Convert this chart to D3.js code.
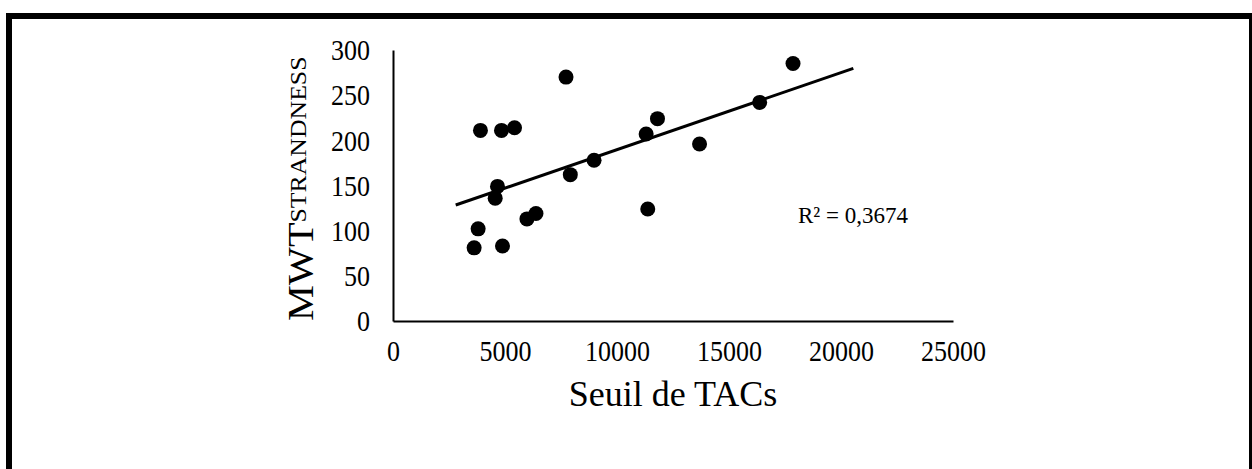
<!DOCTYPE html>
<html><head><meta charset="utf-8">
<script src="https://cdn.jsdelivr.net/npm/d3@7"></script>
<style>body{margin:0;background:#fff;} svg{display:block;}</style>
</head><body>
<script>
const xValues = [3622, 3801, 3904, 4562, 4665, 4843, 4888, 5425, 5979, 6382, 7724, 7916, 8976, 11301, 11373, 11807, 13685, 16369, 17858];
const yValues = [81, 102, 211, 136, 149, 211, 83, 214, 113, 119, 270, 162, 178, 207, 124, 224, 196, 242, 285];
const trendX = [2800, 20550];
const trendY = [128.4, 279.7];
const xTicks = [0, 5000, 10000, 15000, 20000, 25000];
const yTicks = [0, 50, 100, 150, 200, 250, 300];
const xTitle = "Seuil de TACs";
const yTitleMain = "MWT";
const yTitleSup = "STRANDNESS";
const r2Label = "R² = 0,3674";

const W = 1252, H = 469;
const svg = d3.select("body").append("svg").attr("width", W).attr("height", H);
const font = "'Liberation Serif','Times New Roman',serif";
const stretch = 1.1;

svg.append("rect").attr("x", 9).attr("y", 16).attr("width", 1243).attr("height", 500)
  .attr("fill", "none").attr("stroke", "#000").attr("stroke-width", 6);

const x = d3.scaleLinear().domain([0, 25000]).range([393, 953]);
const y = d3.scaleLinear().domain([0, 300]).range([321, 50]);

const xAxis = d3.axisBottom(x).tickValues(xTicks).tickSize(0).tickPadding(0).tickFormat(d3.format("d"));
const gx = svg.append("g").attr("transform", `translate(0,${y(0)})`).call(xAxis);
gx.select(".domain").attr("stroke", "#000").attr("stroke-width", 2);
gx.selectAll("text").attr("font-family", font).attr("font-size", 26).attr("fill", "#000")
  .attr("dy", null).attr("y", 40 / stretch).attr("transform", `scale(1,${stretch})`);

const yAxis = d3.axisLeft(y).tickValues(yTicks).tickSize(0).tickPadding(0).tickFormat(d3.format("d"));
const gy = svg.append("g").attr("transform", `translate(${x(0)},0)`).call(yAxis);
gy.select(".domain").attr("stroke", "#000").attr("stroke-width", 2);
gy.selectAll("text").attr("font-family", font).attr("font-size", 26).attr("fill", "#000")
  .attr("x", -23).attr("dy", "0.34em").attr("transform", `scale(1,${stretch})`);

svg.append("line")
  .attr("x1", x(trendX[0])).attr("y1", y(trendY[0]))
  .attr("x2", x(trendX[1])).attr("y2", y(trendY[1]))
  .attr("stroke", "#000").attr("stroke-width", 3);

const pts = xValues.map((v, i) => ({x: v, y: yValues[i]}));
svg.append("g").selectAll("circle").data(pts).join("circle")
  .attr("cx", d => x(d.x)).attr("cy", d => y(d.y)).attr("r", 7.5).attr("fill", "#000");

svg.append("text").attr("x", 798).attr("y", 223).attr("font-family", font)
  .attr("font-size", 23).attr("fill", "#000").text(r2Label);

svg.append("text").attr("x", (x(0) + x(25000)) / 2).attr("y", 406).attr("text-anchor", "middle")
  .attr("font-family", font).attr("font-size", 36).attr("fill", "#000").text(xTitle);

const yt = svg.append("text").attr("transform", "translate(313,321) rotate(-90) scale(1.12,1)")
  .attr("font-family", font).attr("fill", "#000");
yt.append("tspan").attr("font-size", 36).text(yTitleMain);
yt.append("tspan").attr("font-size", 23).attr("dy", -7).text(yTitleSup);
</script>
</body></html>
